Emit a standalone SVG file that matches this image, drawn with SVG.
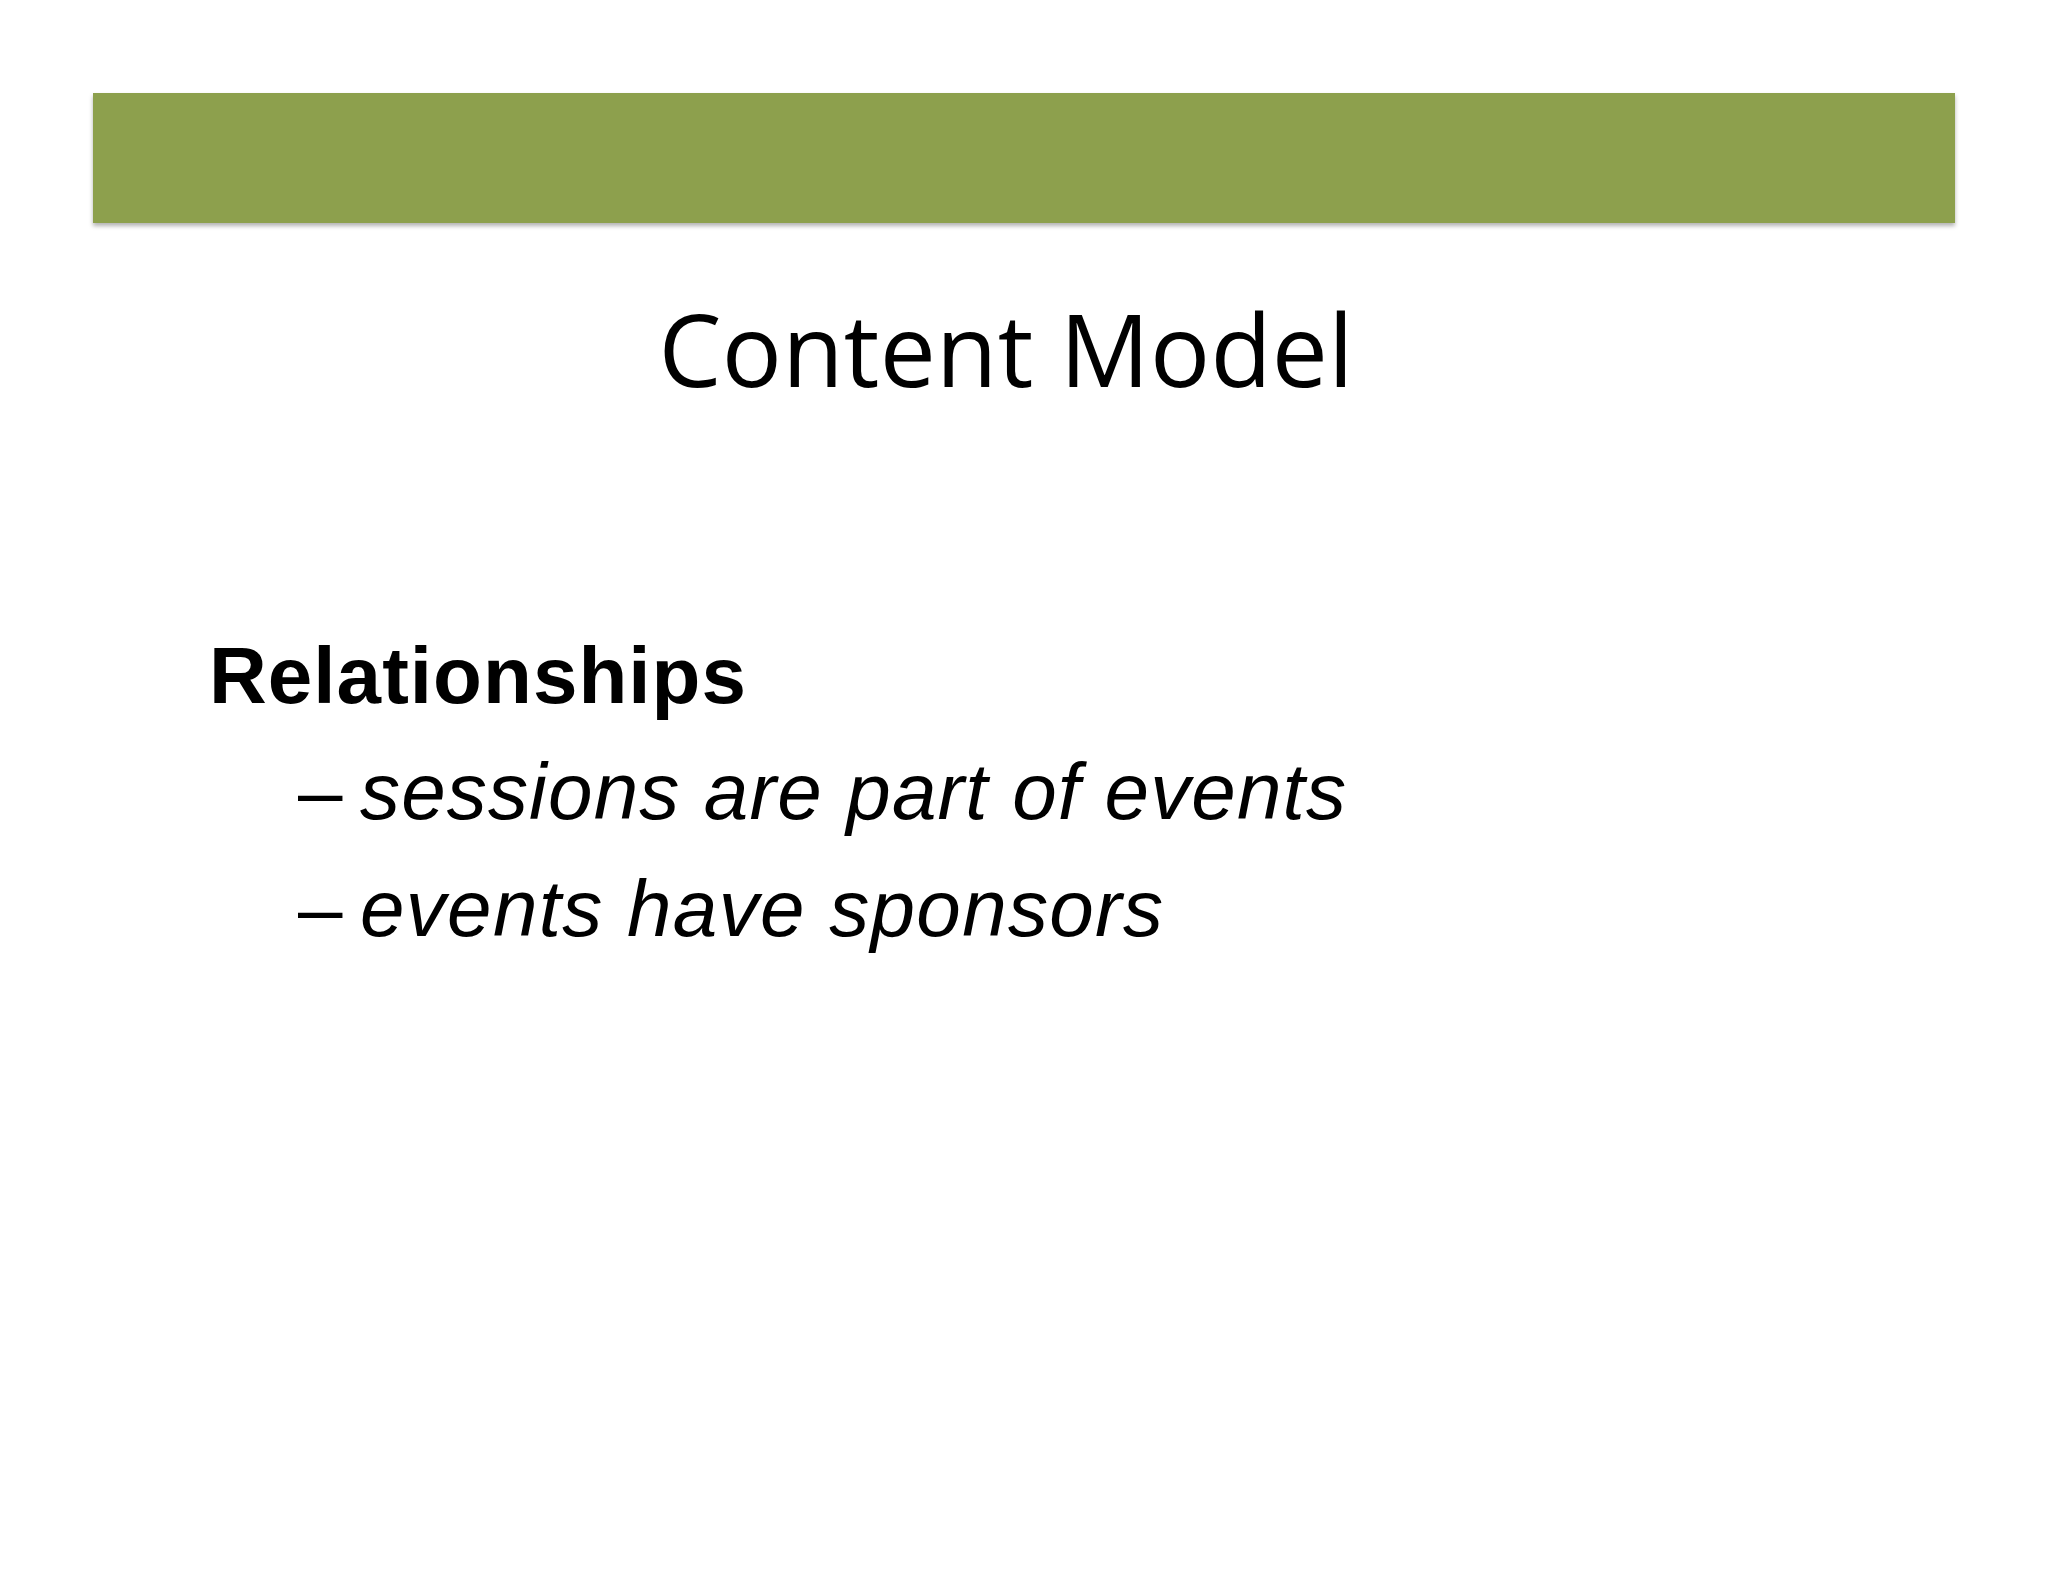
<svg xmlns="http://www.w3.org/2000/svg" width="2048" height="1582" viewBox="0 0 2048 1582">
<defs><style>
.b{font-family:"Liberation Sans",Arial,sans-serif;font-size:80px;fill:#000}
.i{font-style:italic}
</style>
<filter id="sh"><feDropShadow dx="0" dy="3" stdDeviation="2" flood-opacity="0.3"/></filter></defs>
<rect width="2048" height="1582" fill="#fff"/>
<rect x="93" y="93" width="1862" height="130" fill="#8da04e" filter="url(#sh)"/>
<text x="1006" y="387" text-anchor="middle" font-family="Open Sans,sans-serif" font-size="100" textLength="695">Content Model</text>
<text class="b" x="209" y="703" font-weight="bold" textLength="537">Relationships</text>
<text class="b" x="298" y="819">–</text>
<text class="b i" x="360" y="819" textLength="986">sessions are part of events</text>
<text class="b" x="298" y="936">–</text>
<text class="b i" x="360" y="936" textLength="803">events have sponsors</text>
</svg>
